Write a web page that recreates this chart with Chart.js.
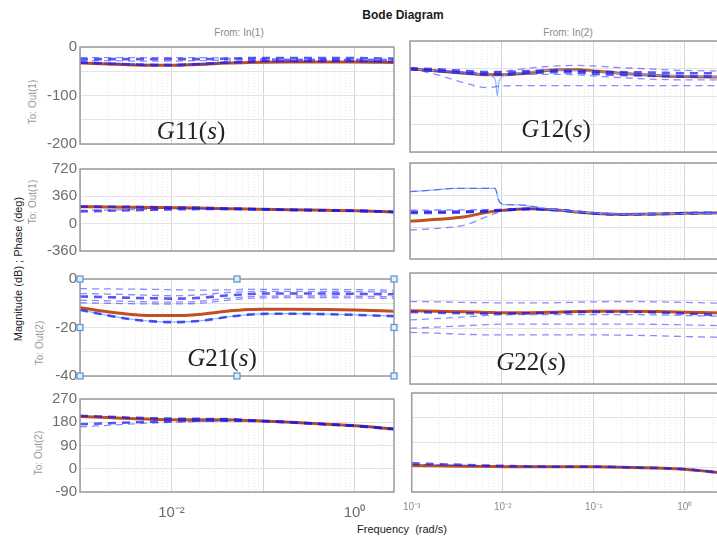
<!DOCTYPE html>
<html>
<head>
<meta charset="utf-8">
<script src="https://cdn.jsdelivr.net/npm/chart.js@4.4.1/dist/chart.umd.min.js"></script>
<style>
  html,body{margin:0;padding:0;background:#fff;}
  #wrap{position:relative;width:717px;height:538px;overflow:hidden;background:#fff;font-family:"Liberation Sans",Arial,sans-serif;}
  #wrap canvas{position:absolute;}
  .t{position:absolute;white-space:pre;transform:translate(-50%,-50%);line-height:1;}
  .rot{transform:translate(-50%,-50%) rotate(-90deg);}
  .g{font-family:"Liberation Serif","Times New Roman",serif;font-size:25px;color:#222;}
  .g i{font-style:italic;}
</style>
</head>
<body>
<div id="wrap">
  <div class="t" style="left:403px;top:15px;font-size:12px;font-weight:bold;color:#1a1a1a;">Bode Diagram</div>
  <div class="t" style="left:239px;top:33px;font-size:10px;color:#8a8a8a;">From: In(1)</div>
  <div class="t" style="left:568px;top:33px;font-size:10px;color:#8a8a8a;">From: In(2)</div>
  <div class="t rot" style="left:33px;top:102px;font-size:10px;color:#9a9a9a;">To: Out(1)</div>
  <div class="t rot" style="left:33px;top:202px;font-size:10px;color:#9a9a9a;">To: Out(1)</div>
  <div class="t rot" style="left:40px;top:343px;font-size:10px;color:#9a9a9a;">To: Out(2)</div>
  <div class="t rot" style="left:39px;top:453px;font-size:10px;color:#9a9a9a;">To: Out(2)</div>
  <div class="t rot" style="left:18px;top:269px;font-size:11px;color:#222;">Magnitude (dB) ; Phase (deg)</div>
  <div class="t" style="left:402px;top:529px;font-size:11px;color:#222;">Frequency  (rad/s)</div>
  <div class="t g" style="left:191px;top:130px;z-index:5;"><i>G</i>11(<i>s</i>)</div>
  <div class="t g" style="left:556px;top:128px;z-index:5;"><i>G</i>12(<i>s</i>)</div>
  <div class="t g" style="left:222px;top:357px;z-index:5;"><i>G</i>21(<i>s</i>)</div>
  <div class="t g" style="left:531px;top:361px;z-index:5;"><i>G</i>22(<i>s</i>)</div>
</div>
<script>
// ---------------- data ----------------
const freq = [0.001, 0.002, 0.004, 0.007, 0.01, 0.02, 0.04, 0.07, 0.1, 0.2, 0.5, 1, 2.7];

// G11 magnitude (dB)
const g11MagNom = [-33, -35, -37, -37.5, -37.5, -36, -33, -32, -31.5, -31, -31, -31, -32];
const g11MagD1  = [-22, -22, -22, -22, -22, -22, -23, -24, -24, -25, -25, -25, -25];
const g11MagD2  = [-28, -28, -29, -29, -29, -28, -27, -26, -26, -26, -26, -26, -27];
const g11MagD3  = [-31, -33, -35, -36, -36, -34, -31, -29, -28, -28, -28, -28, -29];
const g11MagD4  = [-33, -36, -38, -39, -39, -37, -34, -31, -30, -30, -30, -30, -31];
const g11MagB1  = [-32, -34, -36, -37, -37, -35, -32, -30, -29, -29, -29, -29, -30];
const g11MagB2  = [-25, -25, -25, -25, -25, -25, -24, -23, -23, -23, -23, -23, -24];

// G12 magnitude (dB)
const g12MagNom = [-50, -54, -58, -61, -61, -57, -52, -52, -54, -58, -62, -64, -65];
const g12MagUp  = [-50, -53, -56, -57, -55, -49, -45, -44, -45, -48, -51, -53, -54];
const g12MagLow = [-50, -61, -76, -84, -81, -80.5, -80.5, -80.5, -80.5, -80.5, -80.5, -80.5, -80.5];
const g12MagC1  = [-49, -51, -54, -56, -56, -54, -53, -54, -55, -56, -57, -58, -58];
const g12MagC2  = [-51, -54, -58, -60, -60, -58, -56, -57, -59, -61, -63, -64, -64];
const g12MagC3  = [-52, -55, -59, -61, -61, -60, -60, -61, -63, -66, -69, -70, -70];
const g12SpikeFreq = [0.001, 0.002, 0.004, 0.007, 0.008, 0.0086, 0.009, 0.0094, 0.0102, 0.012, 0.02, 0.04, 0.1, 0.3, 1, 2.7];
const g12SpikeMag  = [-50, -54, -58, -61, -64, -71, -99, -73, -64, -60, -56, -52, -55, -60, -63, -65];

// G11 phase (deg)
const g11PhNom  = [222, 220, 216, 213, 211, 206, 198, 192, 189, 182, 176, 170, 154];
const g11PhUp   = [225, 223, 220, 217, 215, 209, 200, 193, 189, 182, 176, 170, 154];
const g11PhLow1 = [161, 170, 178, 184, 188, 193, 195, 192, 189, 182, 176, 170, 154];
const g11PhLow2 = [175, 180, 186, 190, 193, 196, 197, 193, 189, 182, 176, 170, 154];

// G12 phase (deg)
const g12PhNom  = [65, 86, 116, 165, 187, 206, 190, 168, 154, 142, 146, 154, 160];
const g12PhUp1  = [190, 191, 193, 195, 198, 206, 192, 170, 156, 144, 147, 155, 160];
const g12PhUp2  = [157, 160, 165, 175, 186, 204, 191, 169, 155, 143, 146, 154, 160];
const g12PhUp3  = [170, 172, 176, 182, 190, 203, 191, 169, 155, 143, 146, 154, 160];
const g12PhLow  = [-34, -15, 22, 120, 175, 200, 191, 169, 155, 143, 146, 154, 160];
const g12PhHiFreq = [0.001, 0.002, 0.003, 0.0085, 0.0093, 0.0103, 0.015, 0.03, 0.07, 0.2, 2.7];
const g12PhHi     = [397, 420, 435, 435, 300, 255, 250, 210, 170, 145, 160];

// G21 magnitude (dB)
const g21MagNom = [-11.8, -13.5, -14.7, -15.1, -15.1, -14.6, -13.3, -12.6, -12.5, -12.5, -12.6, -12.8, -13.3];
const g21MagLow = [-12.7, -15.0, -16.8, -17.6, -17.8, -17.3, -15.7, -14.7, -14.4, -14.3, -14.5, -14.8, -15.3];
const g21MagU1  = [-4.0, -4.1, -4.2, -4.3, -4.4, -4.6, -4.5, -4.3, -4.3, -4.3, -4.3, -4.4, -4.6];
const g21MagU2  = [-6.0, -6.2, -6.5, -6.8, -6.9, -6.6, -5.6, -5.2, -5.1, -5.1, -5.1, -5.2, -5.4];
const g21MagU3  = [-7.2, -7.5, -7.8, -8.0, -8.1, -7.8, -6.8, -6.2, -6.0, -6.0, -6.0, -6.1, -6.3];
const g21MagU4  = [-8.7, -9.0, -9.3, -9.5, -9.5, -9.2, -8.0, -7.3, -7.1, -7.0, -7.0, -7.1, -7.3];
const g21MagU5  = [-9.8, -10.0, -10.2, -10.3, -10.3, -10.0, -8.8, -8.0, -7.8, -7.7, -7.7, -7.8, -8.0];

// G22 magnitude (dB)
const g22MagNom = [-13.6, -13.8, -14.0, -14.2, -14.3, -14.3, -14.1, -13.9, -13.8, -13.8, -13.9, -14.1, -14.4];
const g22MagD1  = [-10.3, -10.4, -10.6, -10.7, -10.8, -10.8, -10.7, -10.5, -10.4, -10.3, -10.4, -10.6, -10.9];
const g22MagD2  = [-14.0, -14.3, -14.5, -14.6, -14.6, -14.5, -14.3, -14.1, -14.0, -14.0, -14.2, -14.6, -15.2];
const g22MagD3  = [-16.9, -16.4, -15.8, -15.3, -15.1, -15.0, -15.0, -15.0, -15.0, -15.0, -15.1, -15.3, -15.6];
const g22MagD4  = [-19.9, -19.5, -19.0, -18.6, -18.4, -18.4, -18.4, -18.4, -18.4, -18.4, -18.5, -18.7, -19.0];
const g22MagD5  = [-21.4, -21.7, -22.1, -22.3, -22.3, -22.3, -22.3, -22.3, -22.3, -22.4, -22.6, -22.9, -23.2];

// G21 phase (deg)
const g21PhNom  = [202, 198, 194, 191, 190, 190, 190, 187, 185, 180, 172, 166, 154];
const g21PhUp   = [205, 201, 197, 195, 194, 193, 192, 188, 185, 180, 172, 166, 154];
const g21PhLow1 = [172, 176, 180, 183, 184, 186, 186, 185, 184, 180, 172, 166, 154];
const g21PhLow2 = [162, 168, 174, 178, 180, 183, 185, 184, 183, 180, 172, 166, 154];

// G22 phase (deg)
const g22PhNom  = [6, 5, 4, 3, 2, 2, 2, 2, 2, 0, -3, -7, -21];
const g22PhD1   = [14, 11, 8, 6, 5, 3, 2, 2, 2, 0, -3, -7, -21];
const g22PhD2   = [9, 8, 6, 5, 4, 3, 2, 2, 2, 0, -3, -7, -21];

// axis tick values
const xMin = 0.001, xMax = 2.7;
const xDecades = [-3, -2, -1, 0];
const leftXLabels  = [-2, 0];
const rightXLabels = [-3, -2, -1, 0];
const magTicks1 = [0, -100, -200];
const phTicks   = [720, 360, 0, -360];
const magTicks2 = [0, -20, -40];
const phTicks2  = [270, 180, 90, 0, -90];

// ---------------- layout ----------------
const COLS = [{x: 80, w: 314}, {x: 410, w: 314}];
const ROWS = [{y: 41, h: 111}, {y: 163, h: 96}, {y: 273, h: 111}, {y: 393, h: 99}];
const YAX = [
  {min: -200, max: 0, step: 50, labels: magTicks1},
  {min: -360, max: 720, step: 360, labels: phTicks},
  {min: -40, max: 0, step: 10, labels: magTicks2},
  {min: -90, max: 270, step: 90, labels: phTicks2}
];

const STYLE = {
  nom:   {borderColor: '#c0501f', borderWidth: 3},
  dash:  {borderColor: 'rgba(45,45,255,0.55)', borderWidth: 1.3, borderDash: [7, 5]},
  bold:  {borderColor: 'rgba(25,25,235,0.72)', borderWidth: 2.6, borderDash: [8, 6]},
  light: {borderColor: 'rgba(120,175,255,0.9)', borderWidth: 1.2}
};

const xTickList = [];
xDecades.forEach(d => { for (let m = 1; m <= 9; m++) xTickList.push(m * Math.pow(10, d)); });
xTickList.push(2);

function isDecade(v) {
  const l = Math.log10(v);
  return Math.abs(l - Math.round(l)) < 1e-6;
}
const SUP = {'-': '\u207B', '0': '\u2070', '1': '\u00B9', '2': '\u00B2', '3': '\u00B3'};
function supLabel(e) { return '10' + String(e).split('').map(c => SUP[c]).join(''); }

const boxPlugin = {
  id: 'box',
  afterDraw(chart) {
    const {ctx, chartArea: a} = chart;
    ctx.save();
    ctx.strokeStyle = '#9c9c9c';
    ctx.lineWidth = 1.5;
    ctx.strokeRect(a.left, a.top, a.right - a.left, a.bottom - a.top);
    ctx.restore();
  }
};
const handlePlugin = {
  id: 'handles',
  afterDraw(chart) {
    const {ctx, chartArea: a} = chart;
    const mx = (a.left + a.right) / 2, my = (a.top + a.bottom) / 2;
    const pts = [[a.left, a.top], [mx, a.top], [a.right, a.top], [a.left, my], [a.right, my],
                 [a.left, a.bottom], [mx, a.bottom], [a.right, a.bottom]];
    ctx.save();
    ctx.strokeStyle = '#5b9bd5';
    ctx.fillStyle = '#e4eef8';
    ctx.lineWidth = 1.3;
    pts.forEach(([x, y]) => { ctx.fillRect(x - 3, y - 3, 6, 6); ctx.strokeRect(x - 3, y - 3, 6, 6); });
    ctx.restore();
  }
};

function series(kind, fr, vals) {
  return Object.assign({
    data: fr.map((f, i) => ({x: f, y: vals[i]})),
    pointRadius: 0, fill: false,
    cubicInterpolationMode: 'monotone'
  }, STYLE[kind]);
}

const wrap = document.getElementById('wrap');

function panel(col, row, list, extraPlugins) {
  const C = COLS[col], R = ROWS[row], Y = YAX[row];
  const padL = col === 0 ? 70 : 16, padR = 8, padT = 6, padB = row === 3 ? 36 : 4;
  const W = C.w + padL + padR, H = R.h + padT + padB;
  const cv = document.createElement('canvas');
  cv.width = W; cv.height = H;
  cv.style.left = (C.x - padL) + 'px';
  cv.style.top = (R.y - padT) + 'px';
  cv.style.width = W + 'px'; cv.style.height = H + 'px';
  wrap.appendChild(cv);
  const labelSet = col === 0 ? leftXLabels : rightXLabels;
  new Chart(cv, {
    type: 'line',
    data: {datasets: list.map(s => series(s[0], s[1], s[2]))},
    options: {
      responsive: false, animation: false, devicePixelRatio: 1,
      layout: {padding: {left: 0, right: padR, top: padT, bottom: 0}},
      plugins: {legend: {display: false}, tooltip: {enabled: false}},
      events: [],
      scales: {
        x: {
          type: 'logarithmic', min: xMin, max: xMax,
          afterBuildTicks: s => { s.ticks = xTickList.map(v => ({value: v})); },
          afterFit: s => { s.height = padB; },
          grid: {
            drawTicks: false,
            color: c => (c.tick && isDecade(c.tick.value)) ? '#d6d6d6' : '#e8e8e8',
            lineWidth: 1
          },
          border: {display: false, dash: c => (c.tick && !isDecade(c.tick.value)) ? [1, 2] : []},
          ticks: {
            display: row === 3, autoSkip: false, maxRotation: 0, minRotation: 0,
            padding: col === 0 ? 12 : 9,
            color: col === 0 ? '#6e6e6e' : '#8c8c8c',
            font: {family: '"Liberation Sans", Arial, sans-serif', size: col === 0 ? 15 : 10},
            callback: v => {
              if (!isDecade(v)) return '';
              const e = Math.round(Math.log10(v));
              return labelSet.includes(e) ? supLabel(e) : '';
            }
          }
        },
        y: {
          type: 'linear', min: Y.min, max: Y.max,
          afterFit: s => { s.width = padL; },
          grid: {drawTicks: false, color: '#e3e3e3', lineWidth: 1},
          border: {display: false},
          ticks: {
            display: col === 0, stepSize: Y.step, padding: 3,
            color: '#6e6e6e',
            font: {family: '"Liberation Sans", Arial, sans-serif', size: 15},
            callback: v => Y.labels.includes(v) ? String(v) : ''
          }
        }
      }
    },
    plugins: [boxPlugin].concat(extraPlugins || [])
  });
}

// G11 mag
panel(0, 0, [
  ['dash', freq, g11MagD1], ['bold', freq, g11MagB2], ['dash', freq, g11MagD2],
  ['dash', freq, g11MagD3], ['bold', freq, g11MagB1], ['dash', freq, g11MagD4],
  ['nom', freq, g11MagNom]
]);
// G12 mag
panel(1, 0, [
  ['dash', freq, g12MagUp], ['bold', freq, g12MagC1], ['bold', freq, g12MagC2],
  ['dash', freq, g12MagC3], ['dash', freq, g12MagLow], ['light', g12SpikeFreq, g12SpikeMag],
  ['nom', freq, g12MagNom]
]);
// G11 phase
panel(0, 1, [
  ['bold', freq, g11PhUp], ['bold', freq, g11PhLow1], ['dash', freq, g11PhLow2],
  ['nom', freq, g11PhNom]
]);
// G12 phase
panel(1, 1, [
  ['dash', g12PhHiFreq, g12PhHi], ['light', g12PhHiFreq, g12PhHi],
  ['dash', freq, g12PhUp1], ['bold', freq, g12PhUp2], ['bold', freq, g12PhUp3],
  ['dash', freq, g12PhLow], ['nom', freq, g12PhNom]
]);
// G21 mag
panel(0, 2, [
  ['dash', freq, g21MagU1], ['dash', freq, g21MagU2], ['bold', freq, g21MagU3],
  ['dash', freq, g21MagU4], ['dash', freq, g21MagU5],
  ['bold', freq, g21MagLow], ['light', freq, g21MagLow],
  ['nom', freq, g21MagNom]
], [handlePlugin]);
// G22 mag
panel(1, 2, [
  ['dash', freq, g22MagD1], ['bold', freq, g22MagD2], ['dash', freq, g22MagD3],
  ['dash', freq, g22MagD4], ['dash', freq, g22MagD5],
  ['nom', freq, g22MagNom]
]);
// G21 phase
panel(0, 3, [
  ['bold', freq, g21PhUp], ['bold', freq, g21PhLow1], ['dash', freq, g21PhLow2],
  ['nom', freq, g21PhNom]
]);
// G22 phase
panel(1, 3, [
  ['bold', freq, g22PhD1], ['dash', freq, g22PhD2],
  ['nom', freq, g22PhNom]
]);
</script>
</body>
</html>
